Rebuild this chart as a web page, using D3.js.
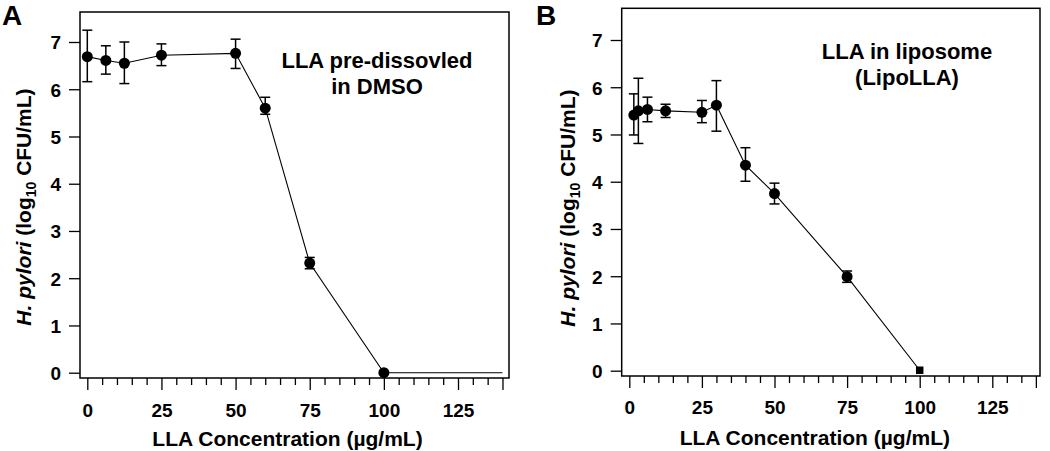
<!DOCTYPE html>
<html>
<head>
<meta charset="utf-8">
<script src="https://cdn.jsdelivr.net/npm/d3@7/dist/d3.min.js"></script>
<style>
  body { margin: 0; background: #fff; }
  text { font-family: "Liberation Sans", Arial, sans-serif; font-weight: bold; fill: #000; }
</style>
</head>
<body>
<svg id="chart" width="1050" height="451"></svg>
<script>
// Panel A: LLA pre-dissolved in DMSO
var concA  = [0, 6.25, 12.5, 25, 50, 60, 75, 100];
var meanA  = [6.69, 6.61, 6.55, 6.72, 6.76, 5.60, 2.32, 0.00];
var upperA = [7.25, 6.92, 7.00, 6.96, 7.06, 5.83, 2.44, 0.00];
var lowerA = [6.16, 6.32, 6.12, 6.50, 6.44, 5.47, 2.20, 0.00];
var tailA  = [[100, 0], [140, 0]];

// Panel B: LLA in liposome (LipoLLA)
var concB  = [1.56, 3.125, 6.25, 12.5, 25, 30, 40, 50, 75, 100];
var meanB  = [5.41, 5.50, 5.53, 5.50, 5.47, 5.62, 4.35, 3.75, 1.99, 0.01];
var upperB = [5.86, 6.19, 5.79, 5.64, 5.72, 6.14, 4.72, 3.97, 2.11, 0.01];
var lowerB = [4.99, 4.81, 5.27, 5.36, 5.25, 5.07, 4.01, 3.53, 1.87, 0.01];
var shapeB = ["c", "c", "c", "c", "c", "c", "c", "c", "c", "s"];

var yTicks = [0, 1, 2, 3, 4, 5, 6, 7];
var xMajor = [0, 25, 50, 75, 100, 125];
var xTicks = d3.range(0, 141, 5);

var svg = d3.select("#chart");

function drawPanel(p) {
  var x = d3.scaleLinear().domain([0, 125]).range([p.x0, p.x125]);
  var y = d3.scaleLinear().domain([0, 7]).range([p.y0, p.y7]);
  var g = svg.append("g");

  // frame
  g.append("rect")
    .attr("x", p.left).attr("y", p.top)
    .attr("width", p.right - p.left).attr("height", p.bottom - p.top)
    .attr("fill", "none").attr("stroke", "#000").attr("stroke-width", 1.5);

  // y axis
  var gy = g.append("g")
    .attr("transform", "translate(" + p.left + ",0)")
    .call(d3.axisLeft(y).tickValues(yTicks).tickSize(11).tickPadding(8).tickFormat(d3.format("d")));
  gy.select(".domain").remove();
  gy.selectAll(".tick line").attr("stroke-width", 1.3);
  gy.selectAll(".tick text")
    .style("font-size", "19px").style("font-family", "Liberation Sans, Arial, sans-serif")
    .style("font-weight", "bold").attr("dy", "0.36em");

  // x axis, minor ticks every 5
  var gx = g.append("g")
    .attr("transform", "translate(0," + p.bottom + ")")
    .call(d3.axisBottom(x).tickValues(xTicks).tickSize(7)
      .tickFormat(function (d) { return xMajor.indexOf(d) >= 0 ? d : ""; }));
  gx.select(".domain").remove();
  gx.selectAll(".tick line")
    .attr("stroke-width", 1.3)
    .attr("y2", function (d) { return xMajor.indexOf(d) >= 0 || d === 140 ? 12 : 7; });
  gx.selectAll(".tick text")
    .attr("y", p.tickLabelY - p.bottom).attr("dy", 0)
    .style("font-size", "19px").style("font-family", "Liberation Sans, Arial, sans-serif")
    .style("font-weight", "bold");

  // axis titles
  g.append("text")
    .attr("x", (p.left + p.right) / 2 + p.titleDx).attr("y", p.xTitleY)
    .attr("text-anchor", "middle").style("font-size", "21px")
    .text("LLA Concentration (\u00b5g/mL)");

  var yt = g.append("text")
    .attr("transform", "translate(" + p.yTitleX + "," + p.yTitleY + ") rotate(-90)")
    .attr("text-anchor", "middle").style("font-size", "21px");
  yt.append("tspan").style("font-style", "italic").text("H. pylori");
  yt.append("tspan").text(" (log");
  yt.append("tspan").attr("dy", 5).style("font-size", "14px").text("10");
  yt.append("tspan").attr("dy", -5).text(" CFU/mL)");

  // panel letter
  g.append("text").attr("x", p.letterX).attr("y", 25)
    .style("font-size", "28px").text(p.letter);

  // annotation
  p.note.forEach(function (line, i) {
    g.append("text")
      .attr("x", p.noteX).attr("y", p.noteY[i])
      .attr("text-anchor", "middle").style("font-size", "22px")
      .text(line);
  });

  var pts = p.conc.map(function (c, i) {
    return { x: c, m: p.mean[i], hi: p.upper[i], lo: p.lower[i], s: p.shape ? p.shape[i] : "c" };
  });

  var line = d3.line().x(function (d) { return x(d[0]); }).y(function (d) { return y(d[1]); });
  g.append("path")
    .datum(pts.map(function (d) { return [d.x, d.m]; }).concat(p.tail || []))
    .attr("d", line).attr("fill", "none").attr("stroke", "#000").attr("stroke-width", 1.1);

  // error bars
  var eb = g.selectAll(".eb").data(pts.filter(function (d) { return d.hi > d.lo; }))
    .enter().append("g").attr("stroke", "#000").attr("stroke-width", 1.5);
  eb.append("line")
    .attr("x1", function (d) { return x(d.x); }).attr("x2", function (d) { return x(d.x); })
    .attr("y1", function (d) { return y(d.hi); }).attr("y2", function (d) { return y(d.lo); });
  ["hi", "lo"].forEach(function (k) {
    eb.append("line")
      .attr("x1", function (d) { return x(d.x) - 5; }).attr("x2", function (d) { return x(d.x) + 5; })
      .attr("y1", function (d) { return y(d[k]); }).attr("y2", function (d) { return y(d[k]); });
  });

  // markers
  g.selectAll(".mk").data(pts).enter().append("path")
    .attr("transform", function (d) { return "translate(" + x(d.x) + "," + y(d.m) + ")"; })
    .attr("d", function (d) {
      return d3.symbol().type(d.s === "s" ? d3.symbolSquare : d3.symbolCircle).size(d.s === "s" ? 56 : 95)();
    })
    .attr("fill", "#000");
}

drawPanel({
  letter: "A", letterX: 2,
  left: 80, right: 509, top: 12, bottom: 378,
  x0: 87.3, x125: 458, y0: 372.7, y7: 42,
  tickLabelY: 417, xTitleY: 446, titleDx: -7,
  yTitleX: 31, yTitleY: 207,
  note: ["LLA pre-dissovled", "in DMSO"], noteX: 377, noteY: [68, 94],
  conc: concA, mean: meanA, upper: upperA, lower: lowerA, tail: tailA
});

drawPanel({
  letter: "B", letterX: 536,
  left: 621.7, right: 1040, top: 8.3, bottom: 376,
  x0: 629.3, x125: 992.3, y0: 370.7, y7: 40,
  tickLabelY: 414, xTitleY: 445, titleDx: -16,
  yTitleX: 575, yTitleY: 208,
  note: ["LLA in liposome", "(LipoLLA)"], noteX: 907, noteY: [59, 85],
  conc: concB, mean: meanB, upper: upperB, lower: lowerB, shape: shapeB
});
</script>
</body>
</html>
